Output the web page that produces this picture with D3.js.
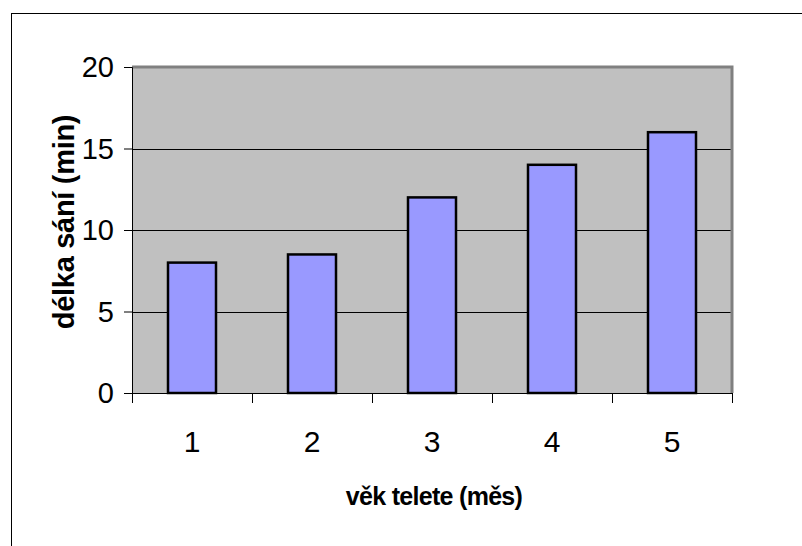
<!DOCTYPE html>
<html><head><meta charset="utf-8">
<script src="https://cdn.jsdelivr.net/npm/d3@7"></script>
<style>body{margin:0;background:#fff}svg{display:block}</style>
</head><body>
<script>
const categories = ["1","2","3","4","5"];
const values = [8, 8.5, 12, 14, 16];
const yTicks = [0,5,10,15,20];
const xTitle = "věk telete (měs)";
const yTitle = "délka sání (min)";

const W=802,H=546;
const FONT="Arial, 'Liberation Sans', sans-serif";
const svg=d3.select("body").append("svg").attr("width",W).attr("height",H);
svg.append("rect").attr("x",11.5).attr("y",13.5).attr("width",W).attr("height",H).attr("fill","#fff").attr("stroke","#000").attr("stroke-width",1);

const L=132,R=732,T=67,B=393;
const x=d3.scaleBand().domain(categories).range([L,R]).padding(0);
const y=d3.scaleLinear().domain([0,20]).range([B,T]);

svg.append("rect").attr("x",L).attr("y",T).attr("width",R-L).attr("height",B-T).attr("fill","#C0C0C0");
// gridlines
svg.append("g").selectAll("line").data(yTicks.filter(d=>d>0&&d<20)).join("line")
 .attr("x1",L).attr("x2",R).attr("y1",d=>Math.round(y(d))+0.5).attr("y2",d=>Math.round(y(d))+0.5)
 .attr("stroke","#000").attr("stroke-width",1);
// plot border top/right
svg.append("path").attr("d",`M${L},${T} H${R} V${B}`).attr("fill","none").attr("stroke","#808080").attr("stroke-width",3);

// bars
const bw=x.bandwidth()*0.4;
svg.append("g").selectAll("rect").data(values).join("rect")
 .attr("x",(d,i)=>x(categories[i])+x.bandwidth()/2-bw/2)
 .attr("y",d=>y(d)).attr("width",bw).attr("height",d=>B-y(d))
 .attr("fill","#9999FF").attr("stroke","#000").attr("stroke-width",2.5);

// y axis
const ya=svg.append("g").attr("transform",`translate(${L},0)`)
 .call(d3.axisLeft(y).tickValues(yTicks).tickSize(8).tickPadding(10));
ya.select(".domain").attr("stroke","#000");
ya.selectAll("text").attr("font-family",FONT).attr("font-size",29).attr("fill","#000").attr("dy","0.33em");
// x axis
const xa=svg.append("g").attr("transform",`translate(0,${B})`)
 .call(d3.axisBottom(x).tickSize(0).tickPadding(0));
xa.select(".domain").attr("stroke","#000").attr("d",`M${L},0.5H${R}`);
xa.selectAll("text").attr("font-family",FONT).attr("font-size",30).attr("fill","#000").attr("dy",null).attr("y",59);
// boundary ticks
svg.append("g").selectAll("line").data(d3.range(categories.length+1)).join("line")
 .attr("x1",i=>L+i*x.step()+0.5).attr("x2",i=>L+i*x.step()+0.5).attr("y1",B).attr("y2",B+10)
 .attr("stroke","#000");

svg.append("text").attr("x",434).attr("y",505).attr("text-anchor","middle")
 .attr("font-family",FONT).attr("font-weight","bold").attr("font-size",25).attr("letter-spacing",-0.7).text(xTitle);
svg.append("text").attr("transform",`translate(74,222) rotate(-90)`).attr("text-anchor","middle")
 .attr("font-family",FONT).attr("font-weight","bold").attr("font-size",29).attr("letter-spacing",-0.3).text(yTitle);
</script>
</body></html>
